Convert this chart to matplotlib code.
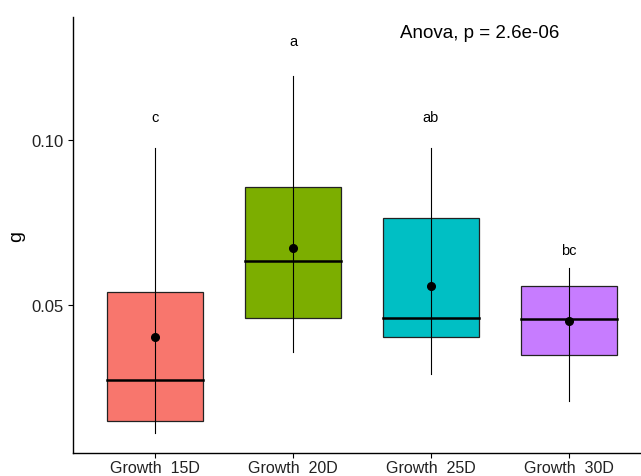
import matplotlib
matplotlib.use("Agg")
import matplotlib.pyplot as plt
from matplotlib.patches import Rectangle
import numpy as np

plt.rcParams["font.family"] = ["Liberation Sans", "DejaVu Sans"]

groups = ["Growth  15D", "Growth  20D", "Growth  25D", "Growth  30D"]
box_low = [0.0149, 0.0460, 0.0404, 0.0348]
box_high = [0.0539, 0.0858, 0.0765, 0.0558]
medians = [0.0273, 0.0633, 0.0461, 0.0458]
means = [0.0402, 0.0674, 0.0557, 0.0452]
line_low = [0.0111, 0.0357, 0.0291, 0.0210]
line_high = [0.0976, 0.1193, 0.0976, 0.0611]
letters = ["c", "a", "ab", "bc"]
letter_y = [0.107, 0.130, 0.107, 0.0667]
colors = ["#F8766D", "#7CAE00", "#00BFC4", "#C77CFF"]

fig = plt.figure(figsize=(6.41, 4.77), dpi=100)
ax = fig.add_axes([73 / 641, 1 - 454 / 477, 567 / 641, 436 / 477])

x = np.arange(1, len(groups) + 1)
width = 0.70
for i, xi in enumerate(x):
    ax.add_patch(Rectangle((xi - width / 2, box_low[i]), width, box_high[i] - box_low[i],
                           facecolor=colors[i], edgecolor="#222222", linewidth=0.9, zorder=1))
    ax.plot([xi - width / 2, xi + width / 2], [medians[i], medians[i]],
            color="black", linewidth=1.8, zorder=2)
    ax.plot([xi, xi], [line_low[i], line_high[i]], color="black", linewidth=0.8, zorder=3)
    ax.plot(xi, means[i], "o", color="black", markersize=5.5, zorder=4)
    ax.text(xi, letter_y[i], letters[i], ha="center", va="center", fontsize=10.5)

ax.text(3.35, 0.1327, "Anova, p = 2.6e-06", ha="center", va="center", fontsize=13.5)

ax.set_xlim(0.406, 4.515)
ax.set_ylim(0.00515, 0.1373)
ax.set_xticks(x)
ax.set_xticklabels(groups, fontsize=11.5, color="#222222")
ax.set_yticks([0.05, 0.10])
ax.set_yticklabels(["0.05", "0.10"], fontsize=12, color="#222222")
ax.set_ylabel("g", fontsize=14)
ax.tick_params(direction="out", length=3.5, width=0.8)
ax.tick_params(axis="x", pad=1.5)
ax.spines["top"].set_visible(False)
ax.spines["right"].set_visible(False)
ax.spines["left"].set_linewidth(1.0)
ax.spines["bottom"].set_linewidth(1.0)

fig.savefig("out.png", dpi=100)
